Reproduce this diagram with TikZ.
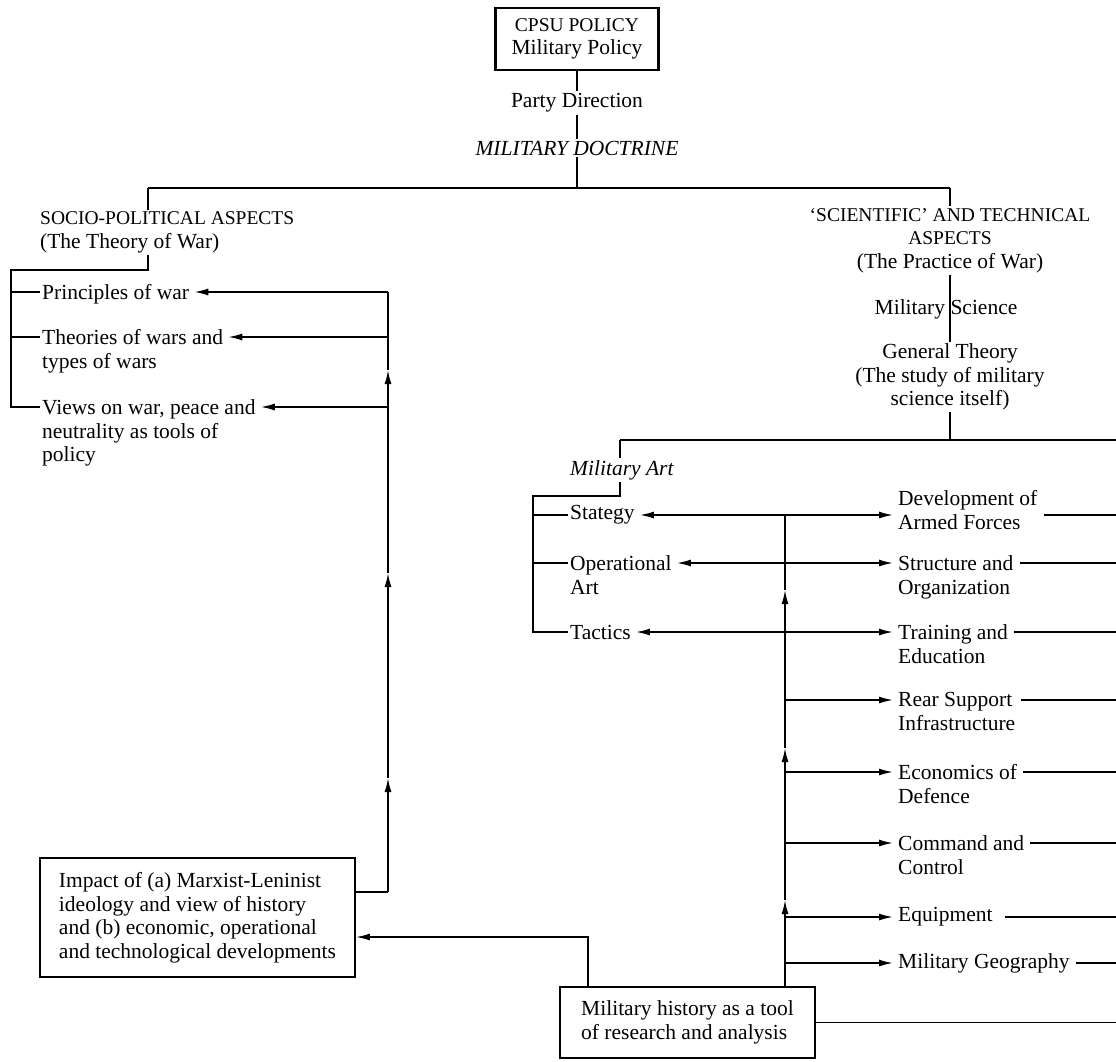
\documentclass[tikz,border=0pt]{standalone}
\usepackage{fontspec}
\setmainfont{Liberation Serif}
\usetikzlibrary{arrows.meta}
\newcommand{\diagfont}{\fontsize{21.5}{23.5}\selectfont}
\newcommand{\capsfont}{\fontsize{19.5}{23.5}\selectfont}
\begin{document}
\begin{tikzpicture}[x=1pt,y=-1pt,
  every node/.style={font=\diagfont, inner sep=2pt},
  lbl/.style={align=left, anchor=north west},
  ctr/.style={align=center},
  conn/.style={line width=1.6pt},
  tipstyle/.tip={Latex[length=14pt,width=7pt]},
  arr/.style={conn, -tipstyle},
  darr/.style={conn, tipstyle-tipstyle},
  box/.style={draw, line width=1.8pt, align=left},
]
\useasboundingbox (0,0) rectangle (1116,1061);

% ---------- top ----------
\node[box, line width=2.8pt, align=center, minimum width=163pt, minimum height=62pt] (cpsu) at (577,39) {{\capsfont CPSU POLICY}\\Military Policy};
\node (party) at (577,103) {Party Direction};
\node[font=\diagfont\itshape] (doct) at (577,148) {MILITARY DOCTRINE};
\coordinate (hL) at (148,188);
\coordinate (hM) at (577,188);
\coordinate (hR) at (950,188);
\draw[conn] (cpsu.south) -- (party.north);
\draw[conn] (party.south) -- (doct.north);
\draw[conn] (doct.south) -- (hM);
\draw[conn] (hL) -- (hR);

% ---------- left branch ----------
\node[lbl] (socio) at (38,209.5) {{\capsfont SOCIO-POLITICAL ASPECTS}\\(The Theory of War)};
\draw[conn] (hL) -- (hL |- socio.north);

\node[lbl] (pow) at (40,282.5) {Principles of war};
\node[lbl] (tow) at (40,327.5) {Theories of wars and\\types of wars};
\node[lbl] (views) at (40,397.5) {Views on war, peace and\\neutrality as tools of\\policy};

\coordinate (sb) at (148,270);
\coordinate (bk) at (11,270);
\coordinate (b1) at (11,292);
\coordinate (b2) at (11,337);
\coordinate (b3) at (11,407);
\draw[conn] (sb |- socio.south) -- (sb) -- (bk) -- (b3) -- (b3 -| views.west);
\draw[conn] (b1) -- (b1 -| pow.west);
\draw[conn] (b2) -- (b2 -| tow.west);

\node[box, minimum width=315pt, minimum height=119pt] (impact) at (197.5,917.5) {Impact of (a) Marxist-Leninist\\ideology and view of history\\and (b) economic, operational\\and technological developments};

\coordinate (a1) at (388,292);
\coordinate (a2) at (388,337);
\coordinate (a3) at (388,370);
\coordinate (a4) at (388,407);
\coordinate (a5) at (388,573);
\coordinate (a6) at (388,778);
\coordinate (a7) at (388,892);
\draw[conn] (a7 -| impact.east) -- (a7);
\draw[arr] (a7) -- (a6);
\draw[arr] (a6) -- (a5);
\draw[arr] (a5) -- (a3);
\draw[conn] (a3) -- (a1);
\draw[arr, shorten >=3pt] (a1) -- (a1 -| pow.east);
\draw[arr, shorten >=3pt] (a2) -- (a2 -| tow.east);
\draw[arr, shorten >=3pt] (a4) -- (a4 -| views.east);

% ---------- right branch ----------
\node[ctr] (sci) at (950,240.5) {{\capsfont ‘SCIENTIFIC’ AND TECHNICAL}\\{\capsfont ASPECTS}\\(The Practice of War)};
\node (milsci) at (946,309) {Military Science};
\node[ctr] (gen) at (950,377) {General Theory\\(The study of military\\science itself)};
\draw[conn] (hR) -- (sci.north);
\draw[conn] (sci.south) -- (gen.north);

\coordinate (g1) at (620,440);
\coordinate (gM) at (950,440);
\coordinate (gR) at (1116,440);
\coordinate (E) at (1116,0);
\draw[conn] (gen.south) -- (gM);
\draw[conn] (g1) -- (gR);

\node[anchor=west, font=\diagfont\itshape] (ma) at (568,470) {Military Art};
\draw[conn] (g1) -- (g1 |- ma.north);

\node[anchor=west] (strat) at (568,515) {Stategy};
\node[lbl] (op) at (568,553.5) {Operational\\Art};
\node[anchor=west] (tac) at (568,632) {Tactics};

\coordinate (k1) at (620,496);
\coordinate (k2) at (533,496);
\coordinate (r1) at (785,515);
\coordinate (r2) at (785,563);
\coordinate (r3) at (785,590);
\coordinate (r4) at (785,632);
\coordinate (r5) at (785,700);
\coordinate (r6) at (785,748);
\coordinate (r7) at (785,772);
\coordinate (r8) at (785,843);
\coordinate (r9) at (785,900);
\coordinate (r10) at (785,917);
\coordinate (r11) at (785,963);

\draw[conn] (k1 |- ma.south) -- (k1) -- (k2) -- (k2 |- r4) -- (r4 -| tac.west);
\draw[conn] (k2 |- r1) -- (r1 -| strat.west);
\draw[conn] (k2 |- r2) -- (r2 -| op.west);

\node[lbl] (dev) at (896,488.5) {Development of\\Armed Forces};
\node[lbl] (struct) at (896,553.5) {Structure and\\Organization};
\node[lbl] (train) at (896,622.5) {Training and\\Education};
\node[lbl] (rear) at (896,690.5) {Rear Support\\Infrastructure};
\node[lbl] (econ) at (896,762.5) {Economics of\\Defence};
\node[lbl] (comm) at (896,833.5) {Command and\\Control};
\node[anchor=west] (equip) at (896,917) {Equipment};
\node[anchor=west] (geo) at (896,963) {Military Geography};

\node[box, minimum width=255pt, minimum height=71pt] (mh) at (687.5,1022.5) {Military history as a tool\\of research and analysis};

% vertical trunk from military history
\draw[arr] (r11 |- mh.north) -- (r9);
\draw[arr] (r9) -- (r6);
\draw[arr] (r6) -- (r3);
\draw[conn] (r3) -- (r1);

\draw[darr, shorten <=3pt, shorten >=3pt] (r1 -| strat.east) -- (r1 -| dev.west);
\draw[darr, shorten <=3pt, shorten >=3pt] (r2 -| op.east) -- (r2 -| struct.west);
\draw[darr, shorten <=3pt, shorten >=3pt] (r4 -| tac.east) -- (r4 -| train.west);
\draw[arr, shorten >=3pt] (r5) -- (r5 -| rear.west);
\draw[arr, shorten >=3pt] (r7) -- (r7 -| econ.west);
\draw[arr, shorten >=3pt] (r8) -- (r8 -| comm.west);
\draw[arr, shorten >=3pt] (r10) -- (r10 -| equip.west);
\draw[arr, shorten >=3pt] (r11) -- (r11 -| geo.west);

% trailing lines to the right edge
\draw[conn, shorten <=4pt] (r1 -| dev.east) -- (r1 -| E);
\draw[conn, shorten <=4pt] (r2 -| struct.east) -- (r2 -| E);
\draw[conn, shorten <=4pt] (r4 -| train.east) -- (r4 -| E);
\draw[conn, shorten <=4pt] (r5 -| rear.east) -- (r5 -| E);
\draw[conn, shorten <=4pt] (r7 -| econ.east) -- (r7 -| E);
\draw[conn, shorten <=4pt] (r8 -| comm.east) -- (r8 -| E);
\draw[conn, shorten <=10pt] (r10 -| equip.east) -- (r10 -| E);
\draw[conn, shorten <=4pt] (r11 -| geo.east) -- (r11 -| E);
\draw[conn] (mh.east) -- (mh.east -| E);

% military history to impact
\coordinate (m1) at (588,937);
\draw[arr] (m1 |- mh.north) -- (m1) -- (m1 -| impact.east);
\end{tikzpicture}
\end{document}
